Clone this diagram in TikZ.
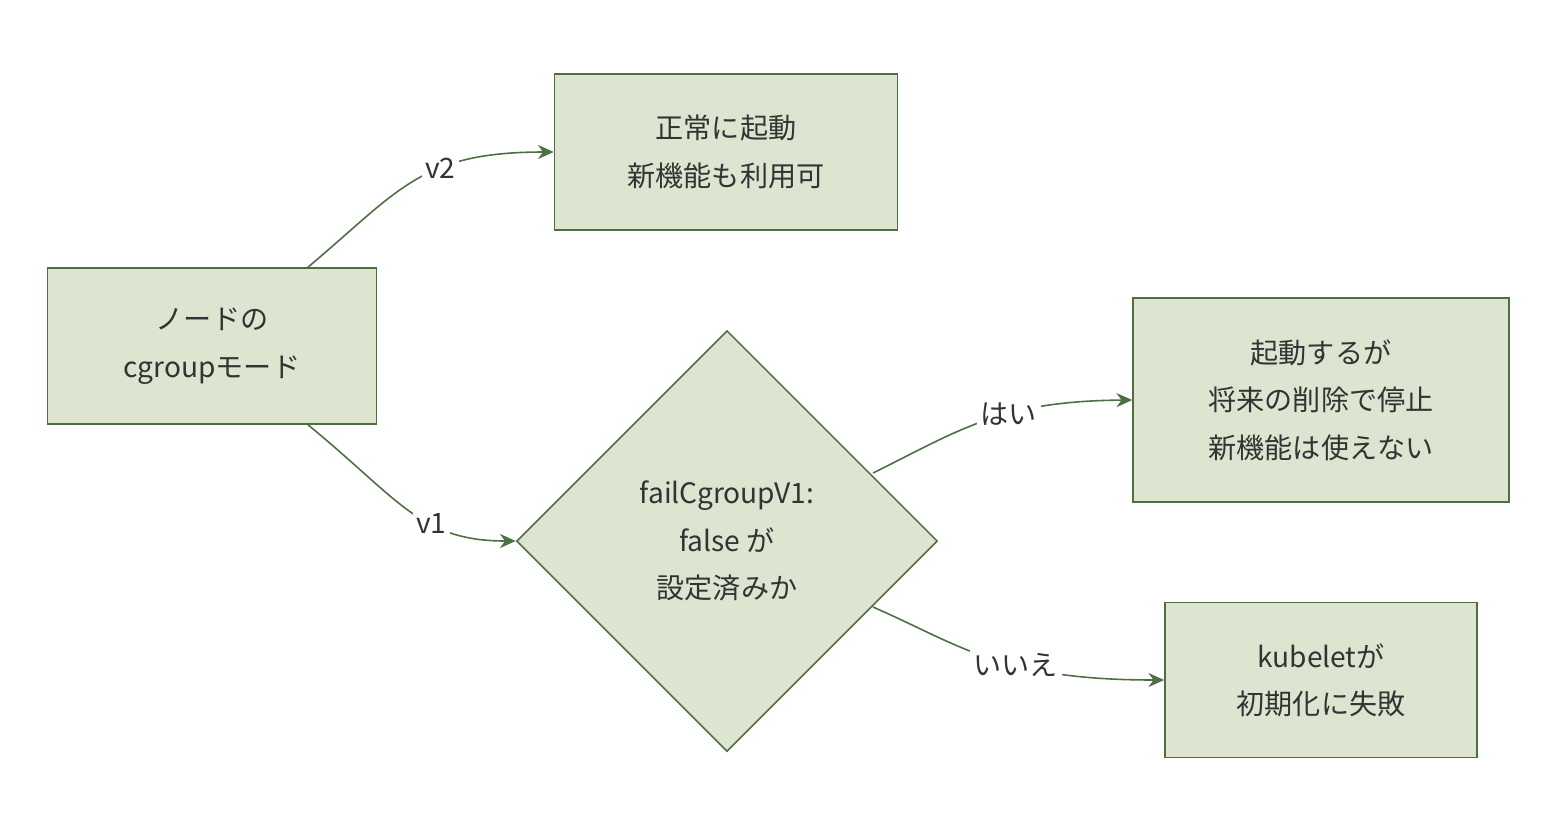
\documentclass[tikz,border=0pt]{standalone}
\usepackage{fontspec}
\setmainfont{Noto Sans CJK JP}
\usetikzlibrary{shapes.geometric,arrows.meta}
\definecolor{boxfill}{HTML}{DDE5D0}
\definecolor{boxline}{HTML}{4E6E43}
\definecolor{txt}{HTML}{333333}
\begin{document}
\begin{tikzpicture}[x=0.02cm,y=-0.02cm,
  every node/.style={text=txt,font=\fontsize{16pt}{27pt}\selectfont,align=center},
  box/.style={draw=boxline,fill=boxfill,line width=0.9pt,inner sep=0pt},
  decide/.style={box,diamond,minimum width=8.42cm,minimum height=8.42cm},
  link/.style={draw=boxline,line width=0.9pt,-{Stealth[length=9pt,width=8pt]}},
  tag/.style={fill=white,inner sep=2pt}]
\useasboundingbox (0,0) rectangle (1558,836);
\node [box,minimum width=6.58cm,minimum height=3.12cm] (mode) at (212,346) {ノードの\\cgroupモード};
\node [box,minimum width=6.86cm,minimum height=3.12cm] (ok) at (726,152) {正常に起動\\新機能も利用可};
\node [decide] (check) at (727,541) {failCgroupV1:\\false が\\設定済みか};
\node [box,minimum width=7.52cm,minimum height=4.08cm] (warn) at (1321,400) {起動するが\\将来の削除で停止\\新機能は使えない};
\node [box,minimum width=6.24cm,minimum height=3.1cm] (fail) at (1321,680) {kubeletが\\初期化に失敗};
\coordinate (mtop) at (307,268);
\coordinate (mbot) at (307,424);
\coordinate (cup) at (873,473);
\coordinate (cdown) at (873,607);
% edges
\draw [link] (mtop) .. controls (400,190) and (420,152) .. node [tag,pos=0.62] {v2} (ok.west);
\draw [link] (mbot) .. controls (400,500) and (420,541) .. node [tag,pos=0.62] {v1} (check.west);
\draw [link] (cup) .. controls (960,430) and (1000,401) .. node [tag,pos=0.6] {はい} (warn.west);
\draw [link] (cdown) .. controls (960,645) and (1000,680) .. node [tag,pos=0.6] {いいえ} (fail.west);
\end{tikzpicture}
\end{document}
